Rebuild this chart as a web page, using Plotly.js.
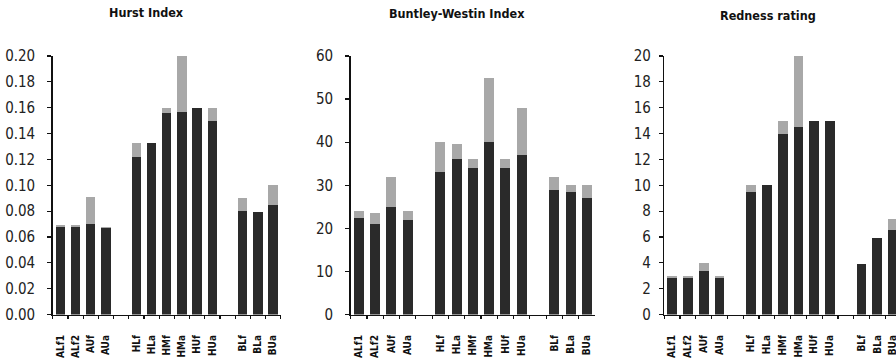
<!DOCTYPE html>
<html>
<head>
<meta charset="utf-8">
<script src="https://cdn.plot.ly/plotly-3.0.1.min.js"></script>
<style>html,body{margin:0;padding:0;background:#fff;overflow:hidden}#chart{width:896px;height:360px}</style>
</head>
<body>
<div id="chart"></div>
<script>
// category slots (two blank slots separate the groups)
const slots = ['ALf1','ALf2','AUf','AUa',' ','HLf','HLa','HMf','HMa','HUf','HUa','  ','BLf','BLa','BUa'];
const categories = ['ALf1','ALf2','AUf','AUa','HLf','HLa','HMf','HMa','HUf','HUa','BLf','BLa','BUa'];

// Hurst Index: dark part and top of lighter part
const hurstDark = [0.068,0.068,0.070,0.067,0.122,0.133,0.156,0.157,0.160,0.150,0.080,0.079,0.085];
const hurstTop  = [0.069,0.069,0.091,0.068,0.133,0.133,0.160,0.200,0.160,0.160,0.090,0.079,0.100];

// Buntley-Westin Index
const bwDark = [22.5,21,25,22,33,36,34,40,34,37,29,28.5,27];
const bwTop  = [24,23.5,32,24,40,39.5,36,55,36,48,32,30,30];

// Redness rating
const redDark = [2.8,2.8,3.4,2.8,9.5,10,14,14.5,15,15,3.9,5.9,6.5];
const redTop  = [3,3,4,3,10,10,15,20,15,15,3.9,5.9,7.4];

const titles = ['Hurst Index','Buntley-Westin Index','Redness rating'];
const yTicks = [
  [0,0.02,0.04,0.06,0.08,0.10,0.12,0.14,0.16,0.18,0.20],
  [0,10,20,30,40,50,60],
  [0,2,4,6,8,10,12,14,16,18,20]
];
const yRanges = [[0,0.2],[0,60],[0,20]];

const W = 896, H = 360;
const px = v => v / W, py = v => 1 - v / H;
const xDom = [[px(52.7), px(280.7)], [px(350.7), px(595)], [px(664.3), 1]];
const yDom = [py(314.5), py(56)];
const xRanges = [[-0.5,14.5],[-0.5,14.5],[-0.5,14.18]];

const dark = '#2a2a2a', light = '#a8a8a8';
const sets = [[hurstDark,hurstTop],[bwDark,bwTop],[redDark,redTop]];
const traces = [];
sets.forEach((s,i) => {
  const xa = i === 0 ? 'x' : 'x' + (i+1);
  const ya = i === 0 ? 'y' : 'y' + (i+1);
  traces.push({type:'bar', x:categories, y:s[0], xaxis:xa, yaxis:ya,
    marker:{color:dark, line:{width:0}}, hoverinfo:'skip', showlegend:false});
  traces.push({type:'bar', x:categories, y:s[1].map((t,k)=>Math.max(0,t-s[0][k])), xaxis:xa, yaxis:ya,
    marker:{color:light, line:{width:0}}, hoverinfo:'skip', showlegend:false});
});

const narrow = '"Liberation Sans Narrow","Arial Narrow","DejaVu Sans Condensed",Arial,sans-serif';
const tickFont = {family:narrow, size:15, color:'#222'};
const xFont = {family:narrow, size:10, color:'#111', weight:'bold'};

const layout = {
  width:W, height:H, margin:{l:0,r:0,t:0,b:0},
  paper_bgcolor:'#fff', plot_bgcolor:'#fff',
  barmode:'stack', bargap:0.38, showlegend:false,
  annotations:[]
};
const boundaries = slots.map((_,k)=>k-0.5).concat([slots.length-0.5]);
const cx = [146, 456.7, 767.5], cy = [13, 14, 16];
for (let i=0;i<3;i++){
  const n = i===0 ? '' : String(i+1);
  const m = String(i+4), mx = String(i+7);
  layout['xaxis'+n] = {
    domain:xDom[i], anchor:'y'+n, type:'category', categoryorder:'array', categoryarray:slots,
    range:xRanges[i], tickson:'boundaries', ticks:'outside', ticklen:3, tickwidth:1.2, tickcolor:'#111',
    showline:true, linecolor:'#111', linewidth:1.5, showgrid:false, zeroline:false,
    tickangle:-90, tickfont:xFont, ticklabelstandoff:15, fixedrange:true
  };
  layout['yaxis'+n] = {
    domain:yDom, anchor:'x'+n, range:yRanges[i], tickvals:yTicks[i],
    ticktext:yTicks[i].map(v => i===0 ? v.toFixed(2) : String(v)),
    ticks:'outside', ticklen:4, tickwidth:1.2, tickcolor:'#111',
    showline:true, linecolor:'#111', linewidth:1.5, showgrid:false, zeroline:false,
    tickfont:tickFont, ticklabelstandoff: i===2 ? 5 : 9, fixedrange:true
  };
  // overlay axes carrying the inner half of the crossing ticks
  layout['yaxis'+m] = {
    overlaying:'y'+n, anchor:'x'+n, side:'left', range:yRanges[i], tickvals:yTicks[i],
    ticks:'inside', ticklen:4, tickwidth:1.2, tickcolor:'#111', showticklabels:false,
    showline:false, showgrid:false, zeroline:false, fixedrange:true
  };
  layout['xaxis'+mx] = {
    overlaying:'x'+n, anchor:'y'+n, side:'bottom', type:'linear', range:xRanges[i], tickvals:boundaries,
    ticks:'inside', ticklen:3, tickwidth:1.2, tickcolor:'#111', showticklabels:false,
    showline:false, showgrid:false, zeroline:false, fixedrange:true
  };
  layout.annotations.push({text:'<b>'+titles[i]+'</b>', xref:'paper', yref:'paper',
    x:px(cx[i]), y:py(cy[i]), xanchor:'center', yanchor:'middle', showarrow:false,
    font:{family:narrow, size:12.5, color:'#111'}});
}
Plotly.newPlot('chart', traces, layout, {staticPlot:true});
</script>
</body>
</html>
